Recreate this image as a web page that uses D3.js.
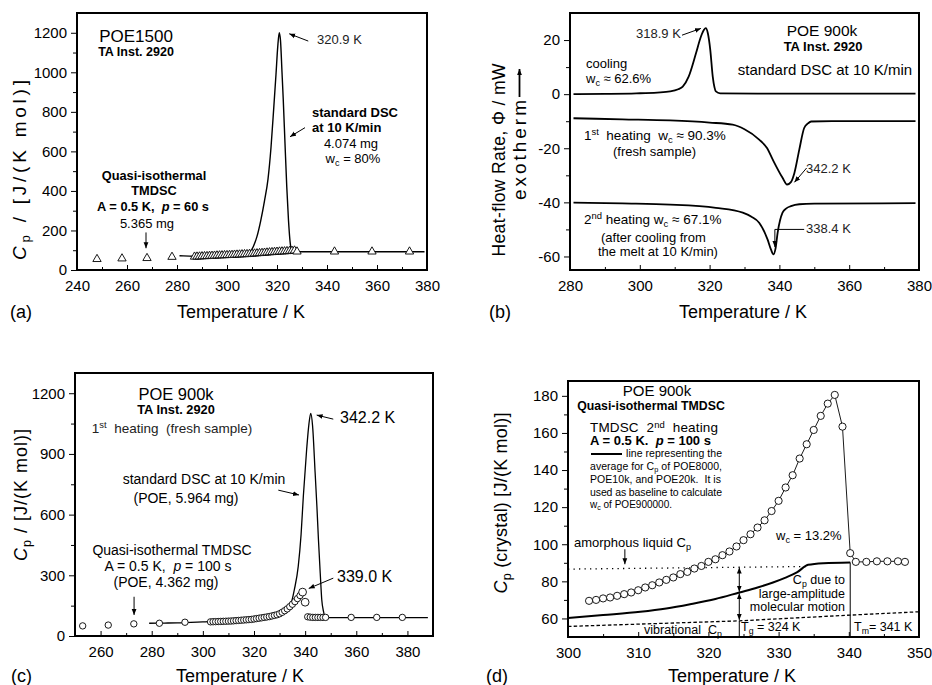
<!DOCTYPE html>
<html lang="en">
<head>
<meta charset="UTF-8">
<title>POE heat capacity, DSC and TMDSC</title>
<script src="https://cdn.jsdelivr.net/npm/d3@7"></script>
<style>
  body { margin: 0; background: #fff; }
  svg { font-family: "Liberation Sans", Arial, sans-serif; }
  .axis text { font-family: "Liberation Sans", Arial, sans-serif; font-size: 15px; fill: #000; }
  .axis .domain { display: none; }
  .axis line { stroke: #000; stroke-width: 1; }
</style>
</head>
<body>
<svg id="fig" width="932" height="685"></svg>
<script>
// ---------- (a) POE1500 ----------
const aDscT  = [281, 285, 290, 295, 300, 305, 308, 310.5, 312, 313.5, 315, 316.4, 317.6, 318.7, 319.6, 320.3, 320.9, 321.4, 322, 322.5, 323.2, 323.9, 324.6, 325.5, 326.3, 327.5, 330, 340, 360, 379];
const aDscCp = [72, 70, 68, 69, 70, 74, 82, 118, 170, 250, 350, 460, 620, 820, 990, 1130, 1200, 1160, 1000, 862, 640, 422, 250, 118, 98, 93, 92, 92, 92, 92];
const aTmT  = [248, 258, 268, 278, 287, 288, 289, 290, 291, 292, 293, 294, 295, 296, 297, 298, 299, 300, 301, 302, 303, 304, 305, 306, 307, 308, 309, 310, 311, 312, 313, 314, 315, 316, 317, 318, 319, 320, 321, 322, 323, 324, 325, 326, 327, 328, 343, 358, 373];
const aTmCp = [55, 58, 60, 66, 67, 67.5, 68, 69, 69.5, 70, 71, 71.5, 72, 73, 73.5, 74, 74.5, 75, 75.5, 76, 77, 77.5, 78, 79, 79.5, 80, 81, 82, 83, 84, 85, 86, 87, 88, 89, 90, 91, 92, 93, 93.5, 94, 95, 96, 97, 98, 93, 93, 93, 93];
const aXTicks = [240, 260, 280, 300, 320, 340, 360, 380];
const aYTicks = [0, 200, 400, 600, 800, 1000, 1200];

// ---------- (b) POE 900k, standard DSC ----------
const bCoolT   = [281, 290, 299, 305, 308.7, 311, 312.3, 314, 316.1, 317.5, 318.4, 318.9, 319.5, 320.2, 320.9, 321.4, 321.8, 323, 340, 379];
const bCoolPhi = [0, 0.1, 0.3, 0.6, 1.0, 1.8, 2.8, 6.5, 15.1, 21.2, 23.8, 24.4, 22.5, 16.3, 6.5, 2.5, 1.0, 0.3, 0.2, 0.2];
const bHeat1T   = [281, 295, 308.7, 320, 326.6, 330, 334.2, 336.5, 338.1, 340.9, 342.2, 343.3, 344.3, 345.7, 347.1, 348.2, 349.1, 355, 379];
const bHeat1Phi = [-8.9, -9.3, -9.7, -10.5, -11.3, -13, -16.8, -20, -24.2, -30.9, -33.4, -32.5, -29.1, -20.5, -12.5, -10.8, -10.1, -10, -10];
const bHeat2T   = [281, 295, 308.7, 321.8, 329.5, 332, 334.2, 336.6, 337.6, 338.3, 338.9, 339.5, 340.9, 342, 343.3, 345.7, 350, 379];
const bHeat2Phi = [-40.1, -40.4, -40.8, -42, -43.8, -45.3, -47.5, -53.7, -57.5, -59.2, -57, -51.2, -43.8, -42.2, -41.4, -40.7, -40.5, -40.3];
const bXTicks = [280, 300, 320, 340, 360, 380];
const bYTicks = [-60, -40, -20, 0, 20];

// ---------- (c) POE 900k, 1st heating ----------
const cDscT  = [279, 285, 290, 300, 310, 320, 325, 330.2, 332.5, 334.1, 335.8, 337.3, 338.4, 339.3, 340.6, 341.5, 342.2, 342.9, 343.9, 344.6, 345.2, 345.9, 346.5, 347.2, 347.8, 349, 360, 388];
const cDscCp = [63, 64, 65, 70, 76, 86, 95, 113, 128, 146, 230, 344, 500, 692, 924, 1050, 1100, 1040, 808, 640, 477, 310, 179, 120, 95, 91, 91, 91];
const cTmT  = [253, 263, 273, 283, 293, 303, 304, 305, 306, 307, 308, 309, 310, 311, 312, 313, 314, 315, 316, 317, 318, 319, 320, 321, 322, 323, 324, 325, 326, 327, 328, 329, 330, 331, 332, 333, 334, 335, 336, 337, 338, 339, 340, 341, 342, 343, 344, 345, 346, 347, 348, 358, 368, 378];
const cTmCp = [50, 54, 60, 63, 68, 70, 70.5, 71, 71.5, 72, 72.5, 73, 73.5, 74, 75, 76, 77, 78, 79, 80, 81, 82, 84, 86, 88, 90, 92, 94, 96, 99, 102, 105, 110, 117, 125, 134, 145, 157, 170, 185, 200, 217, 167, 95, 93, 92, 92, 92, 92, 92, 92, 92, 92, 92];
const cXTicks = [260, 280, 300, 320, 340, 360, 380];
const cYTicks = [0, 300, 600, 900, 1200];

// ---------- (d) POE 900k, TMDSC 2nd heating ----------
const dTmT  = [303, 304, 305, 306, 307, 308, 309, 310, 311, 312, 313, 314, 315, 316, 317, 318, 319, 320, 321, 322, 323, 324, 325, 326, 327, 328, 329, 330, 331, 332, 333, 334, 335, 336, 337, 338, 339.1, 340.2, 341, 342.5, 344, 345.5, 347, 348];
const dTmCp = [69.5, 70.0, 70.8, 71.3, 72.2, 73.1, 74.0, 75.2, 76.7, 77.9, 79.4, 80.8, 82.1, 83.9, 85.1, 86.9, 88.3, 90.5, 91.9, 94.1, 96.1, 98.8, 102.2, 105.4, 109.0, 112.9, 117.9, 123.4, 130.6, 137.2, 146.2, 153.9, 161.6, 169.2, 175.8, 180.5, 163.4, 95.2, 90.5, 90.5, 90.8, 90.8, 90.8, 90.5];
const dBaseT  = [300, 305, 310.3, 314, 317.4, 321, 324.4, 327, 329.2, 331, 332.6, 334.2, 336.4, 340.2];
const dBaseCp = [60.2, 61.8, 63.6, 65.4, 67.7, 70.5, 74.0, 76.7, 79.4, 82, 84.8, 88.9, 89.8, 90.2];
const dLiqT  = [300, 334.2];
const dLiqCp = [86.6, 88.0];
const dVibT  = [300, 324.4, 340.2, 350];
const dVibCp = [55.7, 58.7, 61.8, 63.6];
const dTg = 324.4, dTm = 340.2;
const dXTicks = [300, 310, 320, 330, 340, 350];
const dYTicks = [60, 80, 100, 120, 140, 160, 180];

const svg = d3.select("#fig");
const defs = svg.append("defs");
defs.append("marker").attr("id", "ah")
  .attr("viewBox", "0 0 10 10").attr("refX", 10).attr("refY", 5)
  .attr("markerWidth", 6).attr("markerHeight", 6)
  .attr("markerUnits", "userSpaceOnUse").attr("orient", "auto-start-reverse")
  .append("path").attr("d", "M0,1 L10,5 L0,9 z").attr("fill", "#000");

// small markup: _{sub} ^{sup} *italic*
function rich(t, s, fs, supK) {
  let shift = 0;
  s.split(/(_\{[^}]*\}|\^\{[^}]*\}|\*[^*]*\*)/).filter(p => p).forEach(p => {
    const sp = t.append("tspan");
    let d = 0;
    if (p[0] === "_") { d = fs * 0.2; sp.text(p.slice(2, -1)).attr("font-size", fs * 0.7); }
    else if (p[0] === "^") { d = -fs * (supK || 0.36); sp.text(p.slice(2, -1)).attr("font-size", fs * 0.7); }
    else if (p[0] === "*") { sp.text(p.slice(1, -1)).attr("font-style", "italic"); }
    else sp.text(p);
    if (d - shift !== 0) sp.attr("dy", d - shift);
    shift = d;
  });
}

function txt(x, y, s, o = {}) {
  const fs = o.size || 13;
  const t = svg.append("text").attr("x", x).attr("y", y)
    .attr("font-size", fs)
    .attr("text-anchor", o.anchor || "start")
    .attr("font-weight", o.bold ? "bold" : null)
    .attr("fill", o.fill || "#000")
    .style("white-space", "pre");
  if (o.len) t.attr("textLength", o.len).attr("lengthAdjust", "spacing");
  if (o.rotate) t.attr("transform", `rotate(-90,${x},${y})`);
  rich(t, s, fs, o.supK);
  return t;
}

function panel(p) {
  const [l, r, t, b] = p.box;
  const x = d3.scaleLinear().domain(p.xDomain).range([l, r]);
  const y = d3.scaleLinear().domain(p.yDomain).range([b, t]);
  const g = svg.append("g");
  const ax = (axis, tr) => g.append("g").attr("class", "axis").attr("transform", tr).call(axis);
  ax(d3.axisBottom(x).tickValues(p.xMinor).tickSize(-3).tickFormat(""), `translate(0,${b})`);
  ax(d3.axisBottom(x).tickValues(p.xTicks).tickSize(-5).tickPadding(10).tickFormat(d => String(d)), `translate(0,${b})`);
  ax(d3.axisLeft(y).tickValues(p.yMinor).tickSize(4).tickFormat(""), `translate(${l},0)`);
  ax(d3.axisLeft(y).tickValues(p.yTicks).tickSize(6).tickPadding(4).tickFormat(d => String(d)), `translate(${l},0)`);
  const line = (xs, ys, w, dash, curve) => g.append("path")
    .attr("d", d3.line().curve(curve || d3.curveMonotoneX).x((d, i) => x(xs[i])).y((d, i) => y(ys[i]))(xs))
    .attr("fill", "none").attr("stroke", "#000").attr("stroke-width", w || 1.4)
    .attr("stroke-dasharray", dash || null).attr("stroke-linejoin", "round");
  const arrow = (pts, both) => g.append("path")
    .attr("d", d3.line()(pts.map(q => [x(q[0]), y(q[1])])))
    .attr("fill", "none").attr("stroke", "#000").attr("stroke-width", 1)
    .attr("marker-end", "url(#ah)").attr("marker-start", both ? "url(#ah)" : null);
  const frame = () => g.append("rect").attr("x", l).attr("y", t).attr("width", r - l).attr("height", b - t)
    .attr("fill", "none").attr("stroke", "#000").attr("stroke-width", 2);
  return { g, x, y, line, arrow, frame };
}

// ================= (a) =================
const A = panel({ box: [77, 427, 13, 270], xDomain: [240, 380], yDomain: [0, 1300],
  xTicks: aXTicks, xMinor: [250, 270, 290, 310, 330, 350, 370],
  yTicks: aYTicks, yMinor: [100, 300, 500, 700, 900, 1100] });
A.line(aDscT, aDscCp, 1.4);
A.g.selectAll(".tri").data(aTmT).join("path")
  .attr("transform", (d, i) => `translate(${A.x(d)},${A.y(aTmCp[i])})`)
  .attr("d", d3.symbol(d3.symbolTriangle, 30))
  .attr("fill", "#fff").attr("stroke", "#000").attr("stroke-width", 0.9);
A.arrow([[332.5, 1158], [324.9, 1195]]);
A.arrow([[331.2, 720], [325.2, 674]]);
A.arrow([[267.6, 190], [267.6, 110]]);
A.frame();
txt(136, 42, "POE1500", { size: 17, anchor: "middle" });
txt(136, 56, "TA Inst. 2920", { size: 12.5, anchor: "middle", bold: true });
txt(317, 44, "320.9 K", { size: 13, fill: "#222" });
txt(312, 117, "standard DSC", { size: 13, bold: true });
txt(312, 132, "at 10 K/min", { size: 13, bold: true });
txt(351, 148, "4.074 mg", { size: 13, anchor: "middle" });
txt(353, 163, "w_{c} = 80%", { size: 13, anchor: "middle" });
txt(154, 180, "Quasi-isothermal", { size: 12.8, anchor: "middle", bold: true });
txt(154, 195, "TMDSC", { size: 12.8, anchor: "middle", bold: true });
txt(153, 211, "A = 0.5 K,  *p* = 60 s", { size: 12.8, anchor: "middle", bold: true });
txt(147, 228, "5.365 mg", { size: 13, anchor: "middle" });
txt(26, 170, "*C*_{p} / [J/(K mol)]", { size: 19, anchor: "middle", rotate: true, len: 180 });
txt(241, 318, "Temperature / K", { size: 18, anchor: "middle" });
txt(10, 318, "(a)", { size: 18 });

// ================= (b) =================
const B = panel({ box: [570, 919, 13, 270], xDomain: [280, 380], yDomain: [-65, 30],
  xTicks: bXTicks, xMinor: [290, 310, 330, 350, 370],
  yTicks: bYTicks, yMinor: [-50, -30, -10, 10] });
B.line(bCoolT, bCoolPhi, 1.8);
B.line(bHeat1T, bHeat1Phi, 1.8);
B.line(bHeat2T, bHeat2Phi, 1.8);
B.arrow([[312.1, 21.8], [317.5, 24.3]]);
B.arrow([[347.8, -27.3], [344.3, -32.6]]);
B.arrow([[347.1, -50], [338.7, -50], [338.7, -56.5]]);
B.frame();
txt(636, 38, "318.9 K", { size: 13, fill: "#222" });
txt(822, 36, "POE 900k", { size: 15.5, anchor: "middle" });
txt(823, 51, "TA Inst. 2920", { size: 13, anchor: "middle", bold: true });
txt(825, 75, "standard DSC at 10 K/min", { size: 15, anchor: "middle" });
txt(586, 68, "cooling", { size: 13 });
txt(586, 83, "w_{c} ≈ 62.6%", { size: 13 });
txt(584, 140, "1^{st}  heating  w_{c} ≈ 90.3%", { size: 13.5 });
txt(613, 156, "(fresh sample)", { size: 13 });
txt(806, 173, "342.2 K", { size: 13, fill: "#222" });
txt(584, 224, "2^{nd} heating w_{c} ≈ 67.1%", { size: 13.5 });
txt(601, 242, "(after cooling from", { size: 13 });
txt(598, 256, "the melt at 10 K/min)", { size: 13 });
txt(806, 233, "338.4 K", { size: 13, fill: "#222" });
txt(505, 160, "Heat-flow Rate, Φ / mW", { size: 17.5, anchor: "middle", rotate: true, len: 193 });
// second title line: "exotherm" followed by an upward arrow
const exo = svg.append("g").attr("transform", "translate(526,135) rotate(-90)");
exo.append("text").attr("x", -65).attr("y", 0).attr("font-size", 19)
  .attr("textLength", 100).attr("lengthAdjust", "spacing").text("exotherm");
exo.append("path").attr("d", d3.line()([[38, -6.5], [66, -6.5]]))
  .attr("stroke", "#000").attr("stroke-width", 1.8).attr("marker-end", "url(#ah)");
txt(743, 318, "Temperature / K", { size: 18, anchor: "middle" });
txt(489, 318, "(b)", { size: 18 });

// ================= (c) =================
const C = panel({ box: [75, 433, 373, 636], xDomain: [250, 390], yDomain: [0, 1300],
  xTicks: cXTicks, xMinor: [270, 290, 310, 330, 350, 370],
  yTicks: cYTicks, yMinor: [150, 450, 750, 1050] });
C.line(cDscT, cDscCp, 1.3);
C.g.selectAll(".circ").data(cTmT).join("circle")
  .attr("cx", d => C.x(d)).attr("cy", (d, i) => C.y(cTmCp[i]))
  .attr("r", (d, i) => (d === 339 || d === 340) ? 3.9 : 3.2)
  .attr("fill", "#fff").attr("stroke", "#000").attr("stroke-width", 0.9);
C.arrow([[351, 1072], [344.5, 1092]]);
C.arrow([[329.5, 721], [337.6, 697]]);
C.arrow([[273.1, 194], [273.1, 104]]);
C.arrow([[351, 286], [341.4, 235]]);
C.frame();
txt(176, 400, "POE 900k", { size: 16.5, anchor: "middle" });
txt(176, 414, "TA Inst. 2920", { size: 12.8, anchor: "middle", bold: true });
txt(172, 433, "1^{st}  heating  (fresh sample)", { size: 13.5, anchor: "middle", fill: "#222" });
txt(340, 423, "342.2 K", { size: 16 });
txt(204, 484, "standard DSC at 10 K/min", { size: 14, anchor: "middle" });
txt(186, 503, "(POE, 5.964 mg)", { size: 14, anchor: "middle" });
txt(172, 555, "Quasi-isothermal TMDSC", { size: 14, anchor: "middle" });
txt(168, 571, "A = 0.5 K,  *p* = 100 s", { size: 14, anchor: "middle" });
txt(166, 587, "(POE, 4.362 mg)", { size: 14, anchor: "middle" });
txt(337, 582, "339.0 K", { size: 16 });
txt(27, 495, "*C*_{p} / [J/(K mol)]", { size: 18, anchor: "middle", rotate: true, len: 132 });
txt(240, 682, "Temperature / K", { size: 18, anchor: "middle" });
txt(11, 682, "(c)", { size: 18 });

// ================= (d) =================
const D = panel({ box: [568, 919, 381, 637], xDomain: [300, 350], yDomain: [50, 188],
  xTicks: dXTicks, xMinor: [305, 315, 325, 335, 345],
  yTicks: dYTicks, yMinor: [70, 90, 110, 130, 150, 170] });
D.line(dVibT, dVibCp, 1.3, "3.5,2.2", d3.curveLinear);
D.line(dLiqT, dLiqCp, 1.3, "1.3,4.2", d3.curveLinear);
D.line(dBaseT, dBaseCp, 2);
D.line([dTg, dTg], [50, dVibCp[1]], 1, null, d3.curveLinear);
D.line([dTm, dTm], [50, dBaseCp[dBaseCp.length - 1]], 1, null, d3.curveLinear);
D.arrow([[dTg, 87.4], [dTg, 74.4]], true);
D.arrow([[dTg, 73.6], [dTg, 59.2]], true);
D.arrow([[308.1, 97.3], [308.1, 89.2]]);
D.line(dTmT, dTmCp, 0.9, null, d3.curveLinear);
D.g.selectAll(".circ").data(dTmT).join("circle")
  .attr("cx", d => D.x(d)).attr("cy", (d, i) => D.y(dTmCp[i]))
  .attr("r", 3.6).attr("fill", "#fff").attr("stroke", "#000").attr("stroke-width", 0.9);
D.frame();
txt(657, 396, "POE 900k", { size: 15, anchor: "middle" });
txt(651, 410, "Quasi-isothermal TMDSC", { size: 12.3, anchor: "middle", bold: true });
txt(590, 432, "TMDSC  2^{nd}  heating", { size: 13.5, len: 128, supK: 0.3 });
txt(590, 445, "A = 0.5 K.  *p* = 100 s", { size: 13, bold: true });
svg.append("line").attr("x1", 591).attr("x2", 622).attr("y1", 454).attr("y2", 454)
  .attr("stroke", "#000").attr("stroke-width", 2);
txt(626, 457, "line representing the", { size: 10.5, len: 96 });
txt(590, 470, "average for C_{p} of POE8000,", { size: 10.5, len: 132 });
txt(590, 483, "POE10k, and POE20k.  It is", { size: 10.5, len: 131 });
txt(590, 496, "used as baseline to calculate", { size: 10.5, len: 132 });
txt(590, 508, "w_{c} of POE900000.", { size: 10, len: 82 });
txt(574, 547, "amorphous liquid C_{p}", { size: 13 });
txt(776, 540, "w_{c} = 13.2%", { size: 13 });
txt(845, 584, "C_{p} due to", { size: 12.5, anchor: "end" });
txt(845, 598, "large-amplitude", { size: 12.5, anchor: "end" });
txt(845, 611, "molecular motion", { size: 12.5, anchor: "end" });
txt(644, 634, "vibrational  C_{p}", { size: 12.5 });
txt(741, 631, "T_{g} = 324 K", { size: 12.5 });
txt(854, 631, "T_{m}= 341 K", { size: 12.5 });
txt(507, 503, "*C*_{p} (crystal) [J/(K mol)]", { size: 18, anchor: "middle", rotate: true, len: 181 });
txt(732, 682, "Temperature / K", { size: 18, anchor: "middle" });
txt(486, 682, "(d)", { size: 18 });
</script>
</body>
</html>
